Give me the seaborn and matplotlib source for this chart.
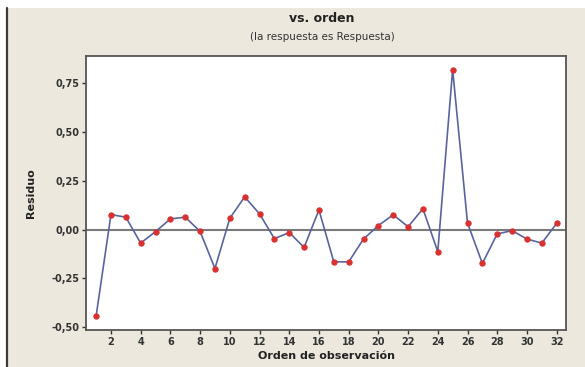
import numpy as np
import pandas as pd
import matplotlib
matplotlib.use("Agg")
import matplotlib.pyplot as plt
import seaborn as sns

orden = list(range(1, 33))
residuo = [-0.443, 0.077, 0.064, -0.069, -0.010, 0.055, 0.064, -0.009,
           -0.199, 0.058, 0.168, 0.081, -0.046, -0.015, -0.091, 0.101,
           -0.165, -0.165, -0.048, 0.021, 0.076, 0.015, 0.107, -0.113,
           0.820, 0.034, -0.173, -0.022, -0.005, -0.048, -0.069, 0.032]
xticks = list(range(2, 33, 2))
yticks = [-0.50, -0.25, 0.00, 0.25, 0.50, 0.75]
ytick_labels = ["-0,50", "-0,25", "0,00", "0,25", "0,50", "0,75"]

title = "vs. orden"
subtitle = "(la respuesta es Respuesta)"
xlabel = "Orden de observación"
ylabel = "Residuo"

sns.set_style("white")
plt.rcParams['font.family'] = ['DejaVu Sans']

beige = "#ECE8DD"
fig = plt.figure(figsize=(5.85, 3.67), dpi=100)
fig.patch.set_facecolor(beige)

# white strip at top and left, plus dark border line
fig.add_artist(plt.Rectangle((0, 1 - 8/367), 1, 8/367, transform=fig.transFigure,
                             facecolor="white", edgecolor="none", zorder=0))
fig.add_artist(plt.Rectangle((0, 0), 6/585, 1, transform=fig.transFigure,
                             facecolor="white", edgecolor="none", zorder=0))
fig.add_artist(plt.Line2D([7/585, 7/585], [0, 1 - 8/367], transform=fig.transFigure,
                          color="#3a3a3a", lw=1.6))

ax = fig.add_axes([86/585, 1 - 330/367, (566 - 86)/585, (330 - 55.5)/367])
ax.set_facecolor("white")

df = pd.DataFrame({"Orden": orden, "Residuo": residuo})
ax.axhline(0, color="#7a7a7a", lw=1.5, zorder=1)
sns.lineplot(data=df, x="Orden", y="Residuo", ax=ax, color="#5a649c", lw=1.2,
             marker="o", markersize=3.8, markerfacecolor="#d93030",
             markeredgecolor="#d93030", zorder=3)

ax.set_xlim(0.32, 32.63)
ax.set_ylim(-0.514, 0.892)
ax.set_xticks(xticks)
ax.set_xticklabels([str(t) for t in xticks], fontsize=7, fontweight="bold", color="#333333")
ax.set_yticks(yticks)
ax.set_yticklabels(ytick_labels, fontsize=7, fontweight="bold", color="#333333")
ax.tick_params(axis="both", which="both", direction="out", length=3, width=1,
               color="#333333", bottom=True, left=True, pad=2)

for s in ax.spines.values():
    s.set_color("#555555")
    s.set_linewidth(1.3)

ax.set_xlabel(xlabel, fontsize=8, fontweight="bold", color="#222222", labelpad=3)
ax.set_ylabel(ylabel, fontsize=8, fontweight="bold", color="#222222", labelpad=11)

fig.text(322/585, 1 - 18/367, title, ha="center", va="center", fontsize=9,
         fontweight="bold", color="#222222")
fig.text(322/585, 1 - 37/367, subtitle, ha="center", va="center", fontsize=7.5,
         color="#333333")

fig.savefig("out.png", dpi=100, facecolor=fig.get_facecolor())
